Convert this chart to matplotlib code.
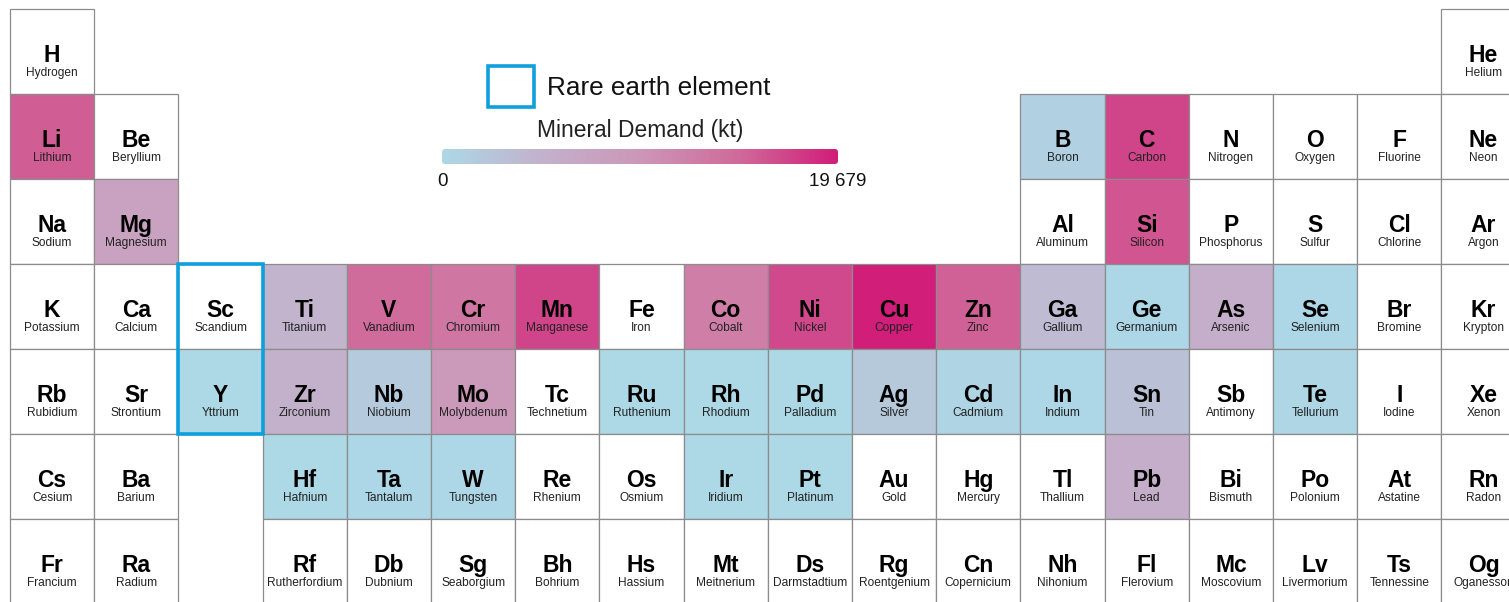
import numpy as np
import matplotlib
matplotlib.use("Agg")
import matplotlib.pyplot as plt
from matplotlib.colors import LinearSegmentedColormap, Normalize
from matplotlib.patches import Rectangle, FancyBboxPatch

plt.rcParams['font.family'] = ['Liberation Sans', 'DejaVu Sans']

# ---------------- data ----------------
symbols = ["H", "He",
           "Li", "Be", "B", "C", "N", "O", "F", "Ne",
           "Na", "Mg", "Al", "Si", "P", "S", "Cl", "Ar",
           "K", "Ca", "Sc", "Ti", "V", "Cr", "Mn", "Fe", "Co", "Ni", "Cu", "Zn", "Ga", "Ge", "As", "Se", "Br", "Kr",
           "Rb", "Sr", "Y", "Zr", "Nb", "Mo", "Tc", "Ru", "Rh", "Pd", "Ag", "Cd", "In", "Sn", "Sb", "Te", "I", "Xe",
           "Cs", "Ba", "Hf", "Ta", "W", "Re", "Os", "Ir", "Pt", "Au", "Hg", "Tl", "Pb", "Bi", "Po", "At", "Rn",
           "Fr", "Ra", "Rf", "Db", "Sg", "Bh", "Hs", "Mt", "Ds", "Rg", "Cn", "Nh", "Fl", "Mc", "Lv", "Ts", "Og"]
names = ["Hydrogen", "Helium",
         "Lithium", "Beryllium", "Boron", "Carbon", "Nitrogen", "Oxygen", "Fluorine", "Neon",
         "Sodium", "Magnesium", "Aluminum", "Silicon", "Phosphorus", "Sulfur", "Chlorine", "Argon",
         "Potassium", "Calcium", "Scandium", "Titanium", "Vanadium", "Chromium", "Manganese", "Iron", "Cobalt",
         "Nickel", "Copper", "Zinc", "Gallium", "Germanium", "Arsenic", "Selenium", "Bromine", "Krypton",
         "Rubidium", "Strontium", "Yttrium", "Zirconium", "Niobium", "Molybdenum", "Technetium", "Ruthenium",
         "Rhodium", "Palladium", "Silver", "Cadmium", "Indium", "Tin", "Antimony", "Tellurium", "Iodine", "Xenon",
         "Cesium", "Barium", "Hafnium", "Tantalum", "Tungsten", "Rhenium", "Osmium", "Iridium", "Platinum",
         "Gold", "Mercury", "Thallium", "Lead", "Bismuth", "Polonium", "Astatine", "Radon",
         "Francium", "Radium", "Rutherfordium", "Dubnium", "Seaborgium", "Bohrium", "Hassium", "Meitnerium",
         "Darmstadtium", "Roentgenium", "Copernicium", "Nihonium", "Flerovium", "Moscovium", "Livermorium",
         "Tennessine", "Oganesson"]
periods = ([1] * 2 + [2] * 8 + [3] * 8 + [4] * 18 + [5] * 18 + [6] * 17 + [7] * 17)
groups = ([1, 18] +
          [1, 2, 13, 14, 15, 16, 17, 18] +
          [1, 2, 13, 14, 15, 16, 17, 18] +
          list(range(1, 19)) +
          list(range(1, 19)) +
          [1, 2] + list(range(4, 19)) +
          [1, 2] + list(range(4, 19)))

# mineral demand (kt); None = no data
demand = {
    "Li": 15500, "Mg": 7900, "B": 1000, "C": 17100, "Si": 16100,
    "Ti": 4700, "V": 14600, "Cr": 13400, "Mn": 17100, "Co": 12600, "Ni": 16900,
    "Cu": 19679, "Zn": 15300, "Ga": 3700, "Ge": 150, "As": 5700, "Se": 100,
    "Y": 50, "Zr": 5100, "Nb": 1800, "Mo": 9400, "Ru": 30, "Rh": 20, "Pd": 60,
    "Ag": 2000, "Cd": 600, "In": 150, "Sn": 3000, "Te": 300,
    "Hf": 40, "Ta": 80, "W": 150, "Ir": 20, "Pt": 60, "Pb": 5700,
}
rare_earth = ["Sc", "Y"]
vmin, vmax = 0, 19679

cbar_title = "Mineral Demand (kt)"
legend_label = "Rare earth element"

# ---------------- styling ----------------
cmap = LinearSegmentedColormap.from_list(
    "demand", [(0.0, "#ADD8E6"), (0.25, "#C3B2CC"), (0.5, "#CC97B8"),
               (0.75, "#D06A9A"), (1.0, "#D01E79")])
norm = Normalize(vmin=vmin, vmax=vmax)
edge_col = "#8c8c8c"
re_col = "#0EA0DC"

W, H = 1509, 602
fig = plt.figure(figsize=(W / 100, H / 100), dpi=100)
cw, ch = 84.2, 85.0
x0, y0 = 10, 9
ax = fig.add_axes([0, 0, 1, 1])
ax.set_xlim(-x0 / cw, (W - x0) / cw)
ax.set_ylim((H - y0) / ch, -y0 / ch)
ax.axis("off")

for sym, nm, p, g in zip(symbols, names, periods, groups):
    c, r = g - 1, p - 1
    val = demand.get(sym)
    fc = cmap(norm(val)) if val is not None else "white"
    ax.add_patch(Rectangle((c, r), 1, 1, facecolor=fc, edgecolor=edge_col, lw=0.9, zorder=1))
    ax.text(c + 0.5, r + 0.62, sym, ha="center", va="baseline", fontsize=16.5,
            fontweight="bold", color="black", zorder=3)
    ax.text(c + 0.5, r + 0.785, nm, ha="center", va="baseline", fontsize=8.6,
            color="#222222", zorder=3)

# rare-earth outline
re_cells = [(g - 1, p - 1) for s, p, g in zip(symbols, periods, groups) if s in rare_earth]
cmin = min(c for c, r in re_cells); cmax = max(c for c, r in re_cells) + 1
rmin = min(r for c, r in re_cells); rmax = max(r for c, r in re_cells) + 1
ax.add_patch(Rectangle((cmin, rmin), cmax - cmin, rmax - rmin, fill=False,
                       edgecolor=re_col, lw=2.6, zorder=4))

# ---------------- legend & colorbar (pixel overlay) ----------------
ov = fig.add_axes([0, 0, 1, 1])
ov.set_xlim(0, W); ov.set_ylim(H, 0); ov.axis("off")
ov.patch.set_alpha(0)

ov.add_patch(Rectangle((488, 66), 46, 41, fill=False, edgecolor=re_col, lw=2.6, zorder=4))
ov.text(547, 88, legend_label, ha="left", va="center", fontsize=18.8, color="#111111")

ov.text(640, 131, cbar_title, ha="center", va="center", fontsize=16.4, color="#222222")

bx0, bx1, by0, by1 = 442, 838, 149, 164
grad = np.linspace(0, 1, 512).reshape(1, -1)
im = ov.imshow(grad, cmap=cmap, extent=(bx0, bx1, by1, by0), aspect="auto", zorder=2,
               interpolation="bilinear")
clip = FancyBboxPatch((bx0, by0), bx1 - bx0, by1 - by0,
                      boxstyle="round,pad=0,rounding_size=3", transform=ov.transData,
                      facecolor="none", edgecolor="none")
ov.add_patch(clip)
im.set_clip_path(clip)
ov.set_xlim(0, W); ov.set_ylim(H, 0)

ov.text(bx0, 182, f"{vmin}", ha="center", va="center", fontsize=13.5, color="#111111")
ov.text(bx1, 182, f"{vmax:,}".replace(",", " "), ha="center", va="center", fontsize=13.5,
        color="#111111")

fig.savefig("out.png", dpi=100)
